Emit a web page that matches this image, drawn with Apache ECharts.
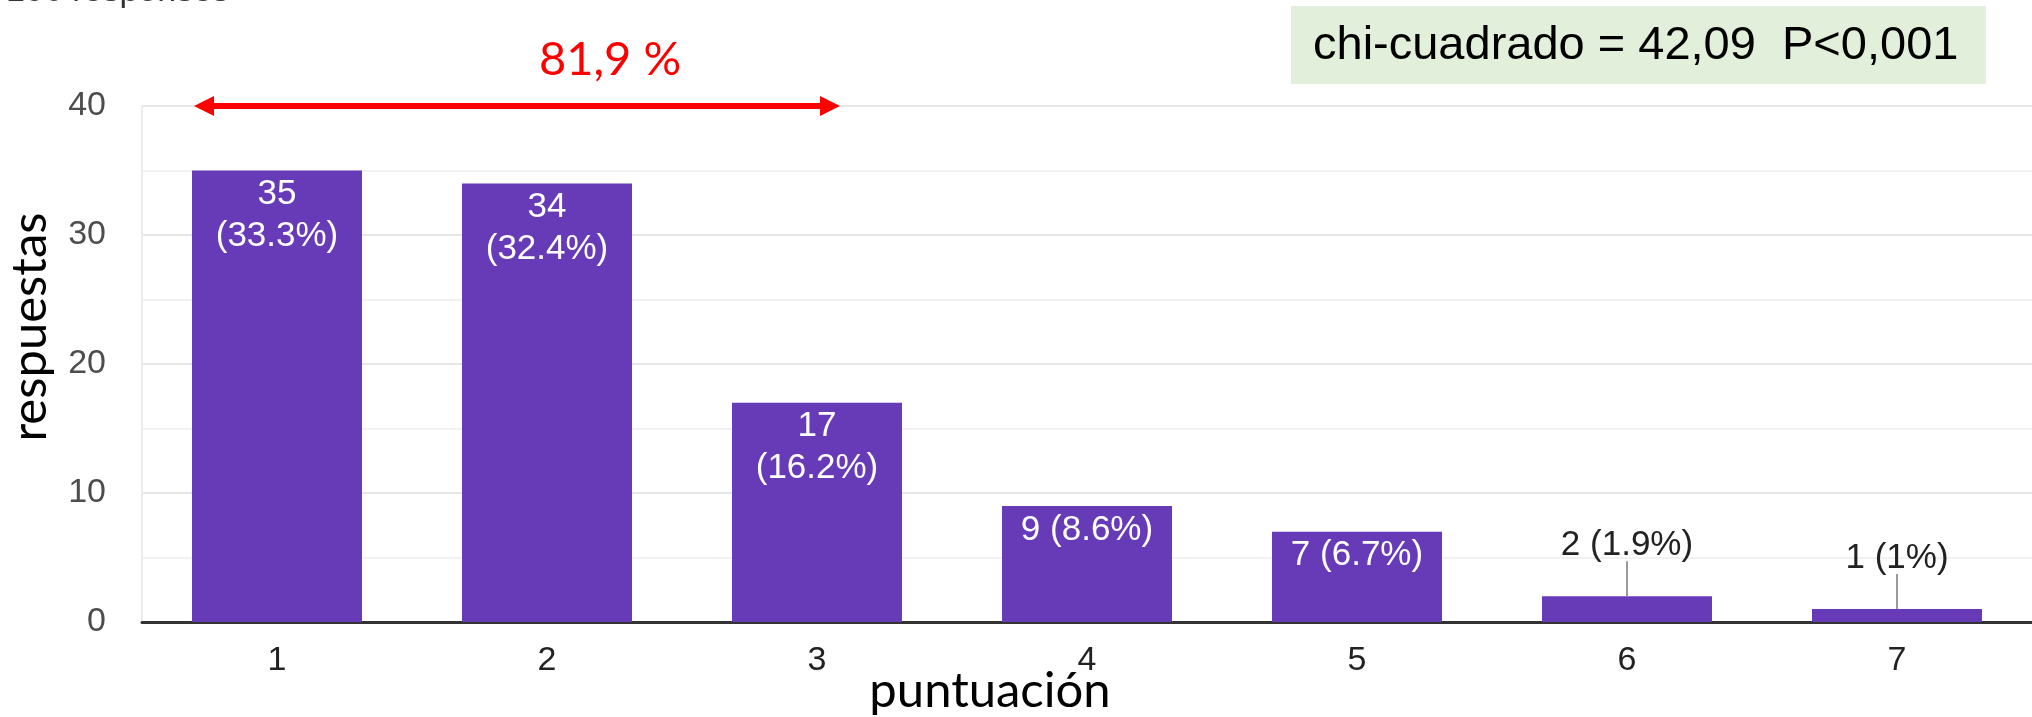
<!DOCTYPE html>
<html>
<head>
<meta charset="utf-8">
<script src="https://cdn.jsdelivr.net/npm/echarts@6/dist/echarts.min.js"></script>
<style>
html,body{margin:0;padding:0;background:#fff;}
#chart{width:2032px;height:717px;}
</style>
</head>
<body>
<div id="chart"></div>
<script>
// ---- data ----
const categories = ['1', '2', '3', '4', '5', '6', '7'];
const counts = [35, 34, 17, 9, 7, 2, 1];
const percents = ['33.3%', '32.4%', '16.2%', '8.6%', '6.7%', '1.9%', '1%'];
const labelModes = ['stacked', 'stacked', 'stacked', 'inline', 'inline', 'outside', 'outside'];
const yMin = 0, yMax = 40, yInterval = 10;
const headerText = '106 responses';
const xTitle = 'puntuación';
const yTitle = 'respuestas';
const spanText = '81,9 %';
const statText = 'chi-cuadrado = 42,09  P<0,001';

const PURPLE = '#673ab7';
const chartFont = '"Liberation Sans", Arial, sans-serif';
const titleFont = 'Lato, "Open Sans", sans-serif';

const barData = counts.map((v, i) => {
  const mode = labelModes[i];
  let label;
  if (mode === 'stacked') {
    label = { show: true, formatter: v + '\n(' + percents[i] + ')' };
  } else if (mode === 'inline') {
    label = { show: true, formatter: v + ' (' + percents[i] + ')' };
  } else {
    label = { show: false };
  }
  return { value: v, label: label };
});

const outsideData = [];
counts.forEach((v, i) => {
  if (labelModes[i] === 'outside') outsideData.push([i, v, v + ' (' + percents[i] + ')']);
});

const chart = echarts.init(document.getElementById('chart'), null, { renderer: 'canvas' });

const option = {
  animation: false,
  grid: { left: 142, top: 106, width: 1900, bottom: 95, containLabel: false },
  xAxis: {
    type: 'category',
    data: categories,
    axisLine: { show: true, lineStyle: { color: '#333', width: 3 } },
    axisTick: { show: false },
    axisLabel: { color: '#222', fontSize: 34, fontFamily: chartFont, margin: 22 },
    splitLine: { show: false }
  },
  yAxis: {
    type: 'value',
    min: yMin, max: yMax, interval: yInterval,
    axisLine: { show: true, lineStyle: { color: '#ececec', width: 2 } },
    axisTick: { show: false },
    axisLabel: { color: '#4d4d4d', fontSize: 34, fontFamily: chartFont, margin: 36 },
    splitLine: { show: true, lineStyle: { color: '#e6e6e6', width: 2 } },
    minorTick: { show: false, splitNumber: 2 },
    minorSplitLine: { show: true, lineStyle: { color: '#f1f1f1', width: 2 } }
  },
  series: [
    {
      type: 'bar',
      data: barData,
      barWidth: 170,
      itemStyle: { color: PURPLE },
      label: {
        position: 'insideTop',
        distance: 3,
        color: '#fff',
        fontSize: 35,
        lineHeight: 42,
        fontFamily: chartFont
      },
      z: 3
    },
    {
      type: 'custom',
      data: outsideData,
      encode: { x: 0, y: 1 },
      z: 4,
      renderItem: function (params, api) {
        const p = api.coord([api.value(0), api.value(1)]);
        const txt = outsideData[params.dataIndex][2];
        return {
          type: 'group',
          children: [
            { type: 'rect', shape: { x: p[0] - 1, y: p[1] - 35, width: 2, height: 35 },
              style: { fill: '#9a9a9a' } },
            { type: 'text', style: { text: txt, x: p[0], y: p[1] - 51,
                textAlign: 'center', textVerticalAlign: 'middle',
                fill: '#222', font: '35px ' + chartFont } }
          ]
        };
      }
    }
  ],
  graphic: [
    { type: 'text', z: 20, style: { text: headerText, x: 6, y: 9, textAlign: 'left', textVerticalAlign: 'bottom',
        fill: '#333', font: '34px ' + chartFont } },
    { type: 'rect', z: 20, shape: { x: 1291, y: 6, width: 695, height: 78 }, style: { fill: '#e2efda' } },
    { type: 'text', z: 21, style: { text: statText, x: 1313, y: 46, textAlign: 'left', textVerticalAlign: 'middle',
        fill: '#000', font: '47px "Liberation Sans", Arial, sans-serif' } },
    { type: 'text', z: 20, style: { text: spanText, x: 610, y: 60, textAlign: 'center', textVerticalAlign: 'middle',
        fill: '#ff0000', font: '47px ' + titleFont } },
    { type: 'text', z: 20, style: { text: xTitle, x: 990, y: 691, textAlign: 'center', textVerticalAlign: 'middle',
        fill: '#000', font: '49px ' + titleFont } },
    { type: 'text', z: 20, x: 30, y: 327, rotation: Math.PI / 2,
      style: { text: yTitle, x: 0, y: 0, textAlign: 'center', textVerticalAlign: 'middle',
        fill: '#000', font: '49px ' + titleFont } },
    // double-headed arrow
    { type: 'rect', z: 20, shape: { x: 210, y: 103, width: 614, height: 6 }, style: { fill: '#ff0000' } },
    { type: 'polygon', z: 20, shape: { points: [[194, 106], [214, 96], [214, 116]] }, style: { fill: '#ff0000' } },
    { type: 'polygon', z: 20, shape: { points: [[840, 106], [820, 96], [820, 116]] }, style: { fill: '#ff0000' } }
  ]
};
chart.setOption(option);
</script>
</body>
</html>
